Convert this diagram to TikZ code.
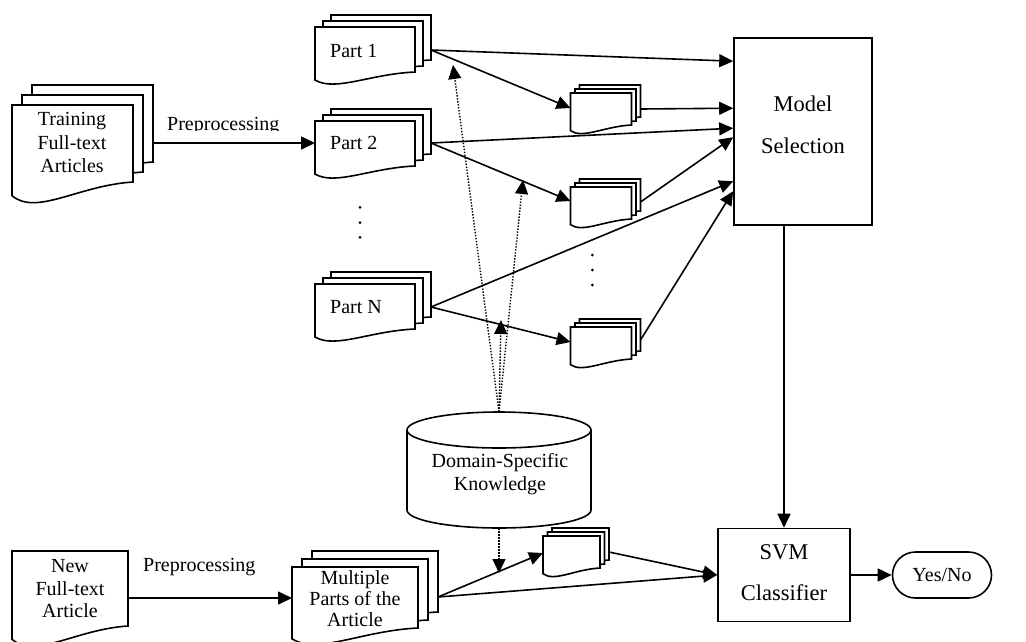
\documentclass[tikz,border=0pt]{standalone}
\usepackage{fontspec}
\setmainfont{Liberation Serif}
\usetikzlibrary{arrows.meta,calc}
\tikzset{
  docline/.style={line width=1.6pt, fill=white, line join=miter},
  boxline/.style={draw, line width=1.6pt, inner sep=0pt},
  txt/.style={inner sep=0pt, font=\fontsize{20}{22.7}\selectfont},
  bigtxt/.style={inner sep=0pt, align=center, font=\fontsize{22.5}{41.3}\selectfont},
  conn/.style={line width=1.6pt, -{Triangle[length=14pt,width=13pt]}},
  dotconn/.style={line width=1.4pt, dash pattern=on 1.4pt off 1.6pt, -{Triangle[length=14pt,width=13pt]}},
  ellipsisdot/.style={fill=black}
}
\newcommand{\onedoc}[4]{%
  \draw[docline] ({#1},{#2}) -- ({#1+#3},{#2}) -- ({#1+#3},{#2+#4})
    .. controls ({#1+0.55*#3},{#2+1.044*#4}) and ({#1+0.2*#3},{#2+1.444*#4}) .. ({#1},{#2+1.178*#4}) -- cycle;}
\newcommand{\docstack}[6]{%
  \onedoc{#1+2*#5}{#2-2*#6}{#3}{#4}%
  \onedoc{#1+#5}{#2-#6}{#3}{#4}%
  \onedoc{#1}{#2}{#3}{#4}}
\begin{document}
\begin{tikzpicture}[x=1pt,y=-1pt]
\useasboundingbox (0,0) rectangle (1026,641);

% ---- Training articles
\docstack{12}{105}{121}{77}{10}{10}
\node[txt, align=center, font=\fontsize{20}{23.5}\selectfont] (train) at (72,142.7) {Training\\Full-text\\Articles};
\coordinate (trainout) at (153,143);

\begin{scope}
  \clip (160,100) rectangle (300,130);
  \node[txt, anchor=base west] (prep1) at (167,130) {Preprocessing};
\end{scope}

% ---- Parts
\docstack{315}{27}{100}{45}{8}{6}
\node[txt, anchor=west] (part1) at (330,51) {Part 1};
\docstack{315}{121}{100}{45}{8}{6}
\node[txt, anchor=west] (part2) at (330,143) {Part 2};
\docstack{315}{284}{100}{45}{8}{6}
\node[txt, anchor=west] (partN) at (330,307) {Part N};
\coordinate (p1out) at (431,50);
\coordinate (p2in) at (315,143);
\coordinate (p2out) at (431,143);
\coordinate (pNout) at (431,307);

% vertical dots
\fill[ellipsisdot] (360,207.3) circle[radius=1.5pt];
\fill[ellipsisdot] (360,222.7) circle[radius=1.5pt];
\fill[ellipsisdot] (360,237.3) circle[radius=1.5pt];
\fill[ellipsisdot] (592.3,255) circle[radius=1.5pt];
\fill[ellipsisdot] (592.3,270) circle[radius=1.5pt];
\fill[ellipsisdot] (592.3,285) circle[radius=1.5pt];

% ---- small feature docs
\docstack{570.5}{93}{61}{32}{4.5}{4}
\coordinate (f1in) at (570.5,108);
\coordinate (f1out) at (640.5,109);
\docstack{570.5}{187}{61}{32}{4.5}{4}
\coordinate (f2in) at (570.5,201);
\coordinate (f2out) at (640.5,202);
\docstack{570.5}{327}{61}{32}{4.5}{4}
\coordinate (f3in) at (570.5,342);
\coordinate (f3out) at (640.5,340);
\docstack{543}{536}{57}{32}{4.5}{4}
\coordinate (fbin) at (543,553);
\coordinate (fbout) at (609,552);

% ---- Model selection
\node[boxline, minimum width=138pt, minimum height=187pt] (ms) at (803,131.5) {};
\node[bigtxt] (mstext) at (803,124.7) {Model\\Selection};
\coordinate (m1) at ($(ms.north west)+(0,24)$);
\coordinate (m2) at ($(ms.north west)+(0,71)$);
\coordinate (m3) at ($(ms.north west)+(0,91)$);
\coordinate (m4) at ($(ms.north west)+(0,100)$);
\coordinate (m5) at ($(ms.north west)+(0,144)$);
\coordinate (m6) at ($(ms.north west)+(0,154)$);

% ---- SVM classifier
\node[boxline, minimum width=132pt, minimum height=93pt] (svm) at (784,575) {};
\node[bigtxt] (svmtext) at (784,572.4) {SVM\\Classifier};
\node[draw, line width=1.6pt, rounded corners=23pt, minimum width=99pt, minimum height=46pt, inner sep=0pt, font=\fontsize{20}{22.7}\selectfont] (yn) at (942,575) {Yes/No};

% ---- Domain knowledge cylinder
\node[minimum width=184pt, minimum height=116pt, inner sep=0pt] (cyl) at (499,470) {};
\draw[line width=1.6pt, fill=white] (407,430) -- (407,510)
  arc[start angle=180, end angle=0, x radius=92, y radius=18] -- (591,430)
  arc[start angle=0, end angle=-180, x radius=92, y radius=18] -- cycle;
\draw[line width=1.6pt] (407,430) arc[start angle=180, end angle=0, x radius=92, y radius=18];
\node[txt, align=center] (dsk) at (500,474) {Domain-Specific\\Knowledge};

% ---- New article
\onedoc{12}{551}{116}{75}
\node[txt, align=center] (newart) at (70,588.7) {New\\Full-text\\Article};
\coordinate (newout) at (128,598);
\node[txt, anchor=base west] (prep2) at (143,571.7) {Preprocessing};
\docstack{292}{567}{126}{61}{10}{8}
\node[txt, align=center, font=\fontsize{20}{21}\selectfont] (multi) at (355,599) {Multiple\\Parts of the\\Article};
\coordinate (multiin) at (292,598);
\coordinate (multiout) at (438,597);

% ---- connectors
\draw[conn] (trainout) -- (p2in);
\draw[conn] (newout) -- (multiin);
\draw[conn] (p1out) -- (m1);
\draw[conn] (p1out) -- (f1in);
\draw[conn] (f1out) -- (m2);
\draw[conn] (p2out) -- (m3);
\draw[conn] (p2out) -- (f2in);
\draw[conn] (f2out) -- (m4);
\draw[conn] (pNout) -- (m5);
\draw[conn] (pNout) -- (f3in);
\draw[conn] (f3out) -- (m6);
\draw[conn] (multiout) -- (fbin);
\draw[conn] (multiout) -- (svm.west);
\draw[conn] (fbout) -- (svm.west);
\draw[conn] (ms.south -| svm.north) -- (svm.north);
\draw[conn] (svm.east) -- (yn.west);

% ---- dotted knowledge arrows
\coordinate (d1) at (453,65);
\coordinate (d2) at (523,180);
\coordinate (d3) at (501,320);
\coordinate (d4) at (499,573);
\draw[dotconn] (cyl.north) -- (d1);
\draw[dotconn] (cyl.north) -- (d2);
\draw[dotconn] (cyl.north) -- (d3);
\draw[dotconn] (cyl.south) -- (d4);
\end{tikzpicture}
\end{document}
